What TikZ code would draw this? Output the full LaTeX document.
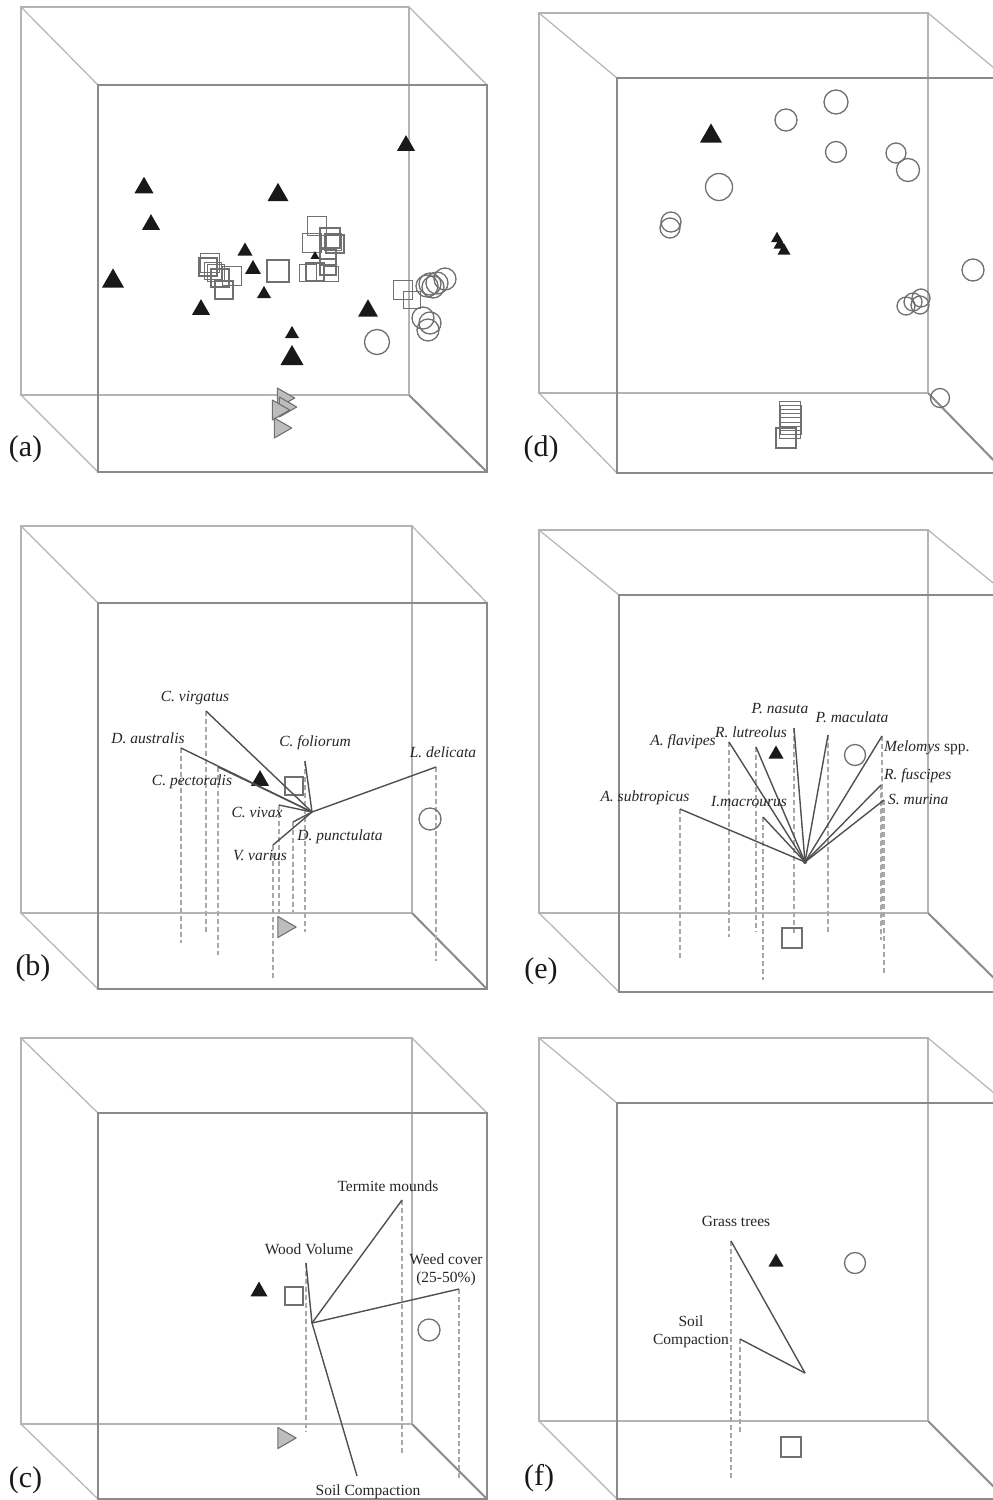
\documentclass[tikz,border=0pt]{standalone}
\usepackage{fontspec}
\setmainfont{Liberation Serif}
\definecolor{backc}{HTML}{B4B4B4}
\definecolor{frontc}{HTML}{8A8A8A}
\definecolor{vecc}{HTML}{505050}
\definecolor{projc}{HTML}{A8A8A8}
\definecolor{mkc}{HTML}{707070}
\definecolor{gtric}{HTML}{BDBDBD}
\tikzset{
  backedge/.style={draw=backc, line width=1.2pt},
  frontedge/.style={draw=frontc, line width=2pt},
  vec/.style={draw=vecc, line width=1.4pt},
  proj/.style={draw=projc, line width=1.2pt, dash pattern=on 5pt off 3pt},
  btrifill/.style={fill=black!90},
  gtristyle/.style={fill=gtric, draw=mkc, line width=1.1pt, line join=round},
  sqstyle/.style={draw=mkc, line width=1.3pt},
  cistyle/.style={draw=mkc, line width=1.3pt},
  lab/.style={font=\fontsize{15.5}{18}\selectfont\itshape, inner sep=0pt, text=black!85},
  labr/.style={font=\fontsize{15.5}{18}\selectfont, inner sep=0pt, text=black!85, align=center},
  plabel/.style={font=\fontsize{30}{32}\selectfont, inner sep=0pt, text=black!90}
}
\newcommand{\cubebox}[8]{%
  \draw[backedge] (#1,#2) rectangle (#3,#4);
  \draw[backedge] (#1,#2) -- (#5,#6);
  \draw[backedge] (#3,#2) -- (#7,#6);
  \draw[backedge] (#1,#4) -- (#5,#8);
  \draw[frontedge] (#3,#4) -- (#7,#8);
  \draw[frontedge] (#5,#6) rectangle (#7,#8);
}
\newcommand{\mkbtri}[3]{\fill[btrifill] ({#1-0.5*#3},{#2+0.435*#3}) -- ({#1+0.5*#3},{#2+0.435*#3}) -- (#1,{#2-0.435*#3}) -- cycle;}
\newcommand{\mkgtri}[3]{\filldraw[gtristyle] ({#1-0.435*#3},{#2-0.5*#3}) -- ({#1-0.435*#3},{#2+0.5*#3}) -- ({#1+0.435*#3},#2) -- cycle;}
\newcommand{\mksq}[3]{\draw[sqstyle] ({#1-0.5*#3},{#2-0.5*#3}) rectangle ++(#3,#3);}
\newcommand{\mkci}[3]{\draw[cistyle] (#1,#2) circle[radius=#3pt];}
\begin{document}
\begin{tikzpicture}[x=1pt, y=-1pt]
\useasboundingbox (0,0) rectangle (993,1500);
\fill[white] (0,0) rectangle (993,1500);
\clip (0,0) rectangle (993,1500);

% ================= (a) =================
\cubebox{21}{7}{409}{395}{98}{85}{487}{472}
\foreach \x/\y/\s in {208/267/18, 210/263/19, 213/271/17, 216/273/17, 220/278/18, 232/276/19, 224/290/18,
  278/271/22, 317/226/19, 312/243/19, 330/238/20, 335/244/18, 333/242/17, 328/257/16, 315/272/18, 308/273/17,
  328/267/16, 331/274/15, 403/290/19, 412/300/17}
  {\mksq{\x}{\y}{\s}}
\foreach \x/\y/\r in {430/284/11, 437/283/11, 445/279/11, 427/286/11, 433/287/11, 423/318/11, 428/330/11, 430/323/11, 377/342/12.5}
  {\mkci{\x}{\y}{\r}}
\foreach \x/\y/\s in {406/143/18, 144/185/19, 278/192/21, 151/222/18, 245/249/15, 253/267/16, 113/278/22,
  264/292/14, 201/307/18, 368/308/20, 292/332/14, 292/355/23, 315/255/9}
  {\mkbtri{\x}{\y}{\s}}
\foreach \x/\y in {286/398, 288/407, 281/410, 283/428}
  {\mkgtri{\x}{\y}{20}}
\node[plabel] (la) at (25.5,449) {(a)};

% ================= (d) =================
\cubebox{539}{13}{928}{393}{617}{78}{1006}{473}
\foreach \x/\y/\r in {786/120/11, 836/102/12, 836/152/10.5, 896/153/10, 908/170/11.5, 719/187/13.5,
  671/222/10, 670/228/10, 973/270/11, 906/306/9, 913/302/9, 921/298/9, 920/305/9, 940/398/9.5}
  {\mkci{\x}{\y}{\r}}
\foreach \x/\y in {790/412, 791/416, 790/420, 791/424, 790/428}
  {\mksq{\x}{\y}{21}}
\mksq{786}{438}{20}
\mkbtri{711}{133}{22}
\mkbtri{777}{237}{12}
\mkbtri{780}{243}{13}
\mkbtri{784}{249}{13}
\node[plabel] (ld) at (541,449) {(d)};

% ================= (b) =================
\cubebox{21}{526}{412}{913}{98}{603}{487}{989}
\coordinate (bC) at (312,812);
\coordinate (bvirg) at (206,711);  \coordinate (bvirgF) at (206,933);
\coordinate (baust) at (181,748);  \coordinate (baustF) at (181,943);
\coordinate (bpect) at (218,767);  \coordinate (bpectF) at (218,955);
\coordinate (bfol)  at (305,761);  \coordinate (bfolF)  at (305,932);
\coordinate (bdel)  at (436,767);  \coordinate (bdelF)  at (436,961);
\coordinate (bviv)  at (279,805);  \coordinate (bvivF)  at (279,917);
\coordinate (bpunc) at (293,822);  \coordinate (bpuncF) at (293,912);
\coordinate (bvar)  at (273,845);  \coordinate (bvarF)  at (273,981);
\foreach \p in {virg, aust, pect, fol, del, viv, punc, var}
  {\draw[proj] (b\p) -- (b\p F);}
\mkbtri{260}{778}{18}
\mksq{294}{786}{18}
\mkci{430}{819}{11}
\mkgtri{287}{927}{21}
\foreach \p in {virg, aust, pect, fol, del, viv, punc, var}
  {\draw[vec] (bC) -- (b\p);}
\node[lab] (tvirg) at (195,698) {C. virgatus};
\node[lab] (taust) at (148,738) {D. australis};
\node[lab] (tpect) at (192,782) {C. pectoralis};
\node[lab] (tfol)  at (315,743) {C. foliorum};
\node[lab] (tdel)  at (443,752) {L. delicata};
\node[lab] (tviv)  at (257,812) {C. vivax};
\node[lab] (tpunc) at (340,837) {D. punctulata};
\node[lab] (tvar)  at (260,855) {V. varius};
\node[plabel] (lb) at (33,968) {(b)};

% ================= (e) =================
\cubebox{539}{530}{928}{913}{619}{595}{1008}{992}
\coordinate (eC) at (805,862);
\coordinate (esub) at (680,809); \coordinate (esubF) at (680,960);
\coordinate (efla) at (729,742); \coordinate (eflaF) at (729,937);
\coordinate (elut) at (756,747); \coordinate (elutF) at (756,932);
\coordinate (emac) at (763,817); \coordinate (emacF) at (763,980);
\coordinate (enas) at (794,728); \coordinate (enasF) at (794,935);
\coordinate (empm) at (828,735); \coordinate (empmF) at (828,932);
\coordinate (emel) at (882,736); \coordinate (emelF) at (882,927);
\coordinate (efus) at (881,785); \coordinate (efusF) at (881,940);
\coordinate (emur) at (884,800); \coordinate (emurF) at (884,973);
\foreach \p in {sub, fla, lut, mac, nas, mpm, mel, fus, mur}
  {\draw[proj] (e\p) -- (e\p F);}
\mkbtri{776}{752}{15}
\mkci{855}{755}{10.5}
\mksq{792}{938}{20}
\foreach \p in {sub, fla, lut, mac, nas, mpm, mel, fus, mur}
  {\draw[vec] (eC) -- (e\p);}
\fill[vecc] (eC) circle[radius=2pt];
\node[lab] (tsub) at (645,798) {A. subtropicus};
\node[lab] (tfla) at (683,742) {A. flavipes};
\node[lab] (tlut) at (751,732) {R. lutreolus};
\node[lab] (tmac) at (749,802) {I.macrourus};
\node[lab] (tnas) at (780,709) {P. nasuta};
\node[lab] (tmpm) at (852,717) {P. maculata};
\node[lab, anchor=west] (tmel) at (884,748) {Melomys \upshape spp.};
\node[lab, anchor=west] (tfus) at (884,776) {R. fuscipes};
\node[lab, anchor=west] (tmur) at (888,799) {S. murina};
\node[plabel] (le) at (541,971) {(e)};

% ================= (c) =================
\cubebox{21}{1038}{412}{1424}{98}{1113}{487}{1499}
\coordinate (cC) at (312,1323);
\coordinate (cwood) at (306,1263); \coordinate (cwoodF) at (306,1432);
\coordinate (cterm) at (402,1200); \coordinate (ctermF) at (402,1453);
\coordinate (cweed) at (459,1289); \coordinate (cweedF) at (459,1480);
\coordinate (csoil) at (357,1476);
\foreach \p in {wood, term, weed}
  {\draw[proj] (c\p) -- (c\p F);}
\mkbtri{259}{1289}{17}
\mksq{294}{1296}{18}
\mkci{429}{1330}{11}
\mkgtri{287}{1438}{21}
\foreach \p in {wood, term, weed, soil}
  {\draw[vec] (cC) -- (c\p);}
\node[labr] (tterm) at (388,1186) {Termite mounds};
\node[labr] (twood) at (309,1249) {Wood Volume};
\node[labr] (tweed) at (446,1270) {Weed cover\\(25-50\%)};
\node[labr] (tsoil) at (368,1492) {Soil Compaction};
\node[plabel] (lc) at (25.5,1480) {(c)};

% ================= (f) =================
\cubebox{539}{1038}{928}{1421}{617}{1103}{1006}{1499}
\coordinate (fC) at (805,1373);
\coordinate (fgrass) at (731,1241); \coordinate (fgrassF) at (731,1478);
\coordinate (fsoil) at (740,1339);  \coordinate (fsoilF) at (740,1435);
\draw[proj] (fgrass) -- (fgrassF);
\draw[proj] (fsoil) -- (fsoilF);
\mkbtri{776}{1260}{15}
\mkci{855}{1263}{10.5}
\mksq{791}{1447}{20}
\draw[vec] (fC) -- (fgrass);
\draw[vec] (fC) -- (fsoil);
\node[labr] (tgrass) at (736,1221) {Grass trees};
\node[labr] (tfsoil) at (691,1332) {Soil\\Compaction};
\node[plabel] (lf) at (539,1478) {(f)};
\end{tikzpicture}
\end{document}
